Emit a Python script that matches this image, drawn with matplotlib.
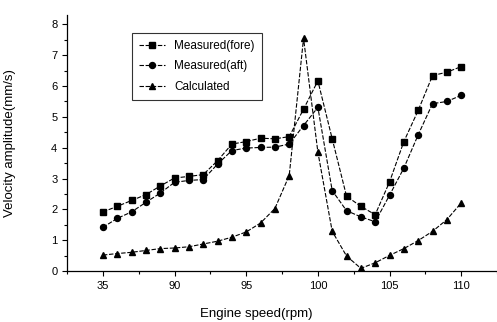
import matplotlib
matplotlib.use("Agg")
import matplotlib.pyplot as plt
from matplotlib.ticker import MultipleLocator

rpm = list(range(85, 111))
fore = [1.92, 2.10, 2.29, 2.48, 2.76, 3.02, 3.07, 3.13, 3.58, 4.12, 4.20, 4.31, 4.29, 4.36,
        5.25, 6.17, 4.29, 2.43, 2.10, 1.83, 2.89, 4.20, 5.21, 6.34, 6.45, 6.63]
aft = [1.42, 1.71, 1.92, 2.23, 2.53, 2.88, 2.94, 2.97, 3.47, 3.91, 3.99, 4.01, 4.02, 4.12,
       4.72, 5.31, 2.61, 1.96, 1.76, 1.60, 2.46, 3.34, 4.42, 5.43, 5.50, 5.70]
calc = [0.52, 0.57, 0.61, 0.67, 0.73, 0.75, 0.79, 0.88, 0.97, 1.10, 1.27, 1.56, 2.03, 3.10,
        7.55, 3.86, 1.29, 0.49, 0.09, 0.27, 0.51, 0.73, 0.99, 1.29, 1.67, 2.21]
xticks = [85, 90, 95, 100, 105, 110]
xticklabels = ["35", "90", "95", "100", "105", "110"]
yticks = [0, 1, 2, 3, 4, 5, 6, 7, 8]

plt.rcParams['font.family'] = ['Liberation Sans', 'DejaVu Sans']
fig = plt.figure(figsize=(4.97, 3.22), dpi=100)
ax = fig.add_axes([0.135, 0.158, 0.865, 0.795])

ls = (0, (4, 1.5))
ax.plot(rpm, fore, color='black', lw=0.8, ls=ls, marker='s', ms=4.3, label='Measured(fore)')
ax.plot(rpm, aft, color='black', lw=0.8, ls=ls, marker='o', ms=4.3, label='Measured(aft)')
ax.plot(rpm, calc, color='black', lw=0.8, ls=ls, marker='^', ms=4.8, label='Calculated')

ax.set_xlim(82.5, 112.5)
ax.set_ylim(0, 8.3)
ax.set_xticks(xticks)
ax.set_xticklabels(xticklabels)
ax.set_yticks(yticks)
ax.xaxis.set_minor_locator(MultipleLocator(2.5))
ax.yaxis.set_minor_locator(MultipleLocator(0.5))
ax.tick_params(which='both', direction='out', labelsize=8, width=0.8, color='black')
ax.tick_params(which='major', length=3.5)
ax.tick_params(which='minor', length=2)
for s in ['top', 'right']:
    ax.spines[s].set_visible(False)
for s in ['left', 'bottom']:
    ax.spines[s].set_linewidth(0.9)

ax.set_xlabel('Engine speed(rpm)', fontsize=9.5)
ax.set_ylabel('Velocity amplitude(mm/s)', fontsize=9.5)
ax.xaxis.set_label_coords(0.44, -0.145)
ax.yaxis.set_label_coords(-0.119, 0.5)

leg = ax.legend(loc='upper left', bbox_to_anchor=(0.137, 0.955), fontsize=8.5,
                frameon=True, fancybox=False, edgecolor='black', handlelength=2.2,
                borderpad=0.6, labelspacing=0.75)
leg.get_frame().set_linewidth(0.8)

fig.savefig('out.png', dpi=100)
